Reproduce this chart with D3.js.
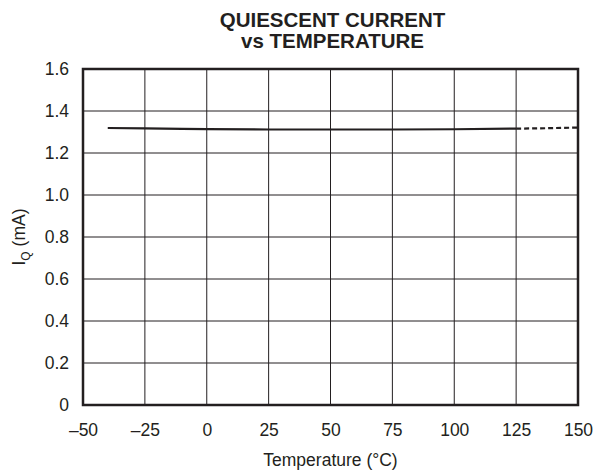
<!DOCTYPE html>
<html>
<head>
<meta charset="utf-8">
<script src="https://cdn.jsdelivr.net/npm/d3@7"></script>
<style>
  body { margin: 0; background: #fff; }
  text { font-family: Arial, "Liberation Sans", sans-serif; fill: #231f20; }
</style>
</head>
<body>
<div id="chart"></div>
<script>
const width = 595, height = 473;
const margin = {top: 69, right: 17, bottom: 68, left: 83};

// measured curve (solid) and extrapolated part (dashed)
const tempSolid = [-40, -25, -10, 0, 25, 50, 75, 100, 125];
const iqSolid = [1.319, 1.317, 1.315, 1.314, 1.312, 1.312, 1.312, 1.313, 1.316];
const tempDash = [125, 137, 150];
const iqDash = [1.316, 1.318, 1.321];

const xTicks = [-50, -25, 0, 25, 50, 75, 100, 125, 150];
const yTicks = [0, 0.2, 0.4, 0.6, 0.8, 1.0, 1.2, 1.4, 1.6];

const svg = d3.select("#chart")
  .append("svg")
  .attr("width", width)
  .attr("height", height);

const x = d3.scaleLinear().domain([-50, 150]).range([margin.left, width - margin.right]);
const y = d3.scaleLinear().domain([0, 1.6]).range([height - margin.bottom, margin.top]);

// grid
svg.append("g")
  .selectAll("line")
  .data(xTicks)
  .join("line")
  .attr("x1", d => x(d)).attr("x2", d => x(d))
  .attr("y1", y(0)).attr("y2", y(1.6))
  .attr("stroke", "#231f20")
  .attr("stroke-width", 1);

svg.append("g")
  .selectAll("line")
  .data(yTicks)
  .join("line")
  .attr("x1", x(-50)).attr("x2", x(150))
  .attr("y1", d => y(d)).attr("y2", d => y(d))
  .attr("stroke", "#231f20")
  .attr("stroke-width", 1);

// frame
svg.append("rect")
  .attr("x", x(-50)).attr("y", y(1.6))
  .attr("width", x(150) - x(-50))
  .attr("height", y(0) - y(1.6))
  .attr("fill", "none")
  .attr("stroke", "#231f20")
  .attr("stroke-width", 2.5);

// axes (labels only)
const fmtX = d => d < 0 ? "\u2013" + Math.abs(d) : String(d);
const xAxis = d3.axisBottom(x).tickValues(xTicks).tickFormat(fmtX).tickSize(0).tickPadding(19);
const yAxis = d3.axisLeft(y).tickValues(yTicks).tickFormat(d => d === 0 ? "0" : d3.format(".1f")(d)).tickSize(0).tickPadding(14);

svg.append("g")
  .attr("transform", `translate(0,${y(0)})`)
  .call(xAxis)
  .call(g => g.select(".domain").remove())
  .selectAll("text")
  .style("font-size", "17.5px")
  .attr("fill", "#231f20");

svg.append("g")
  .attr("transform", `translate(${x(-50)},0)`)
  .call(yAxis)
  .call(g => g.select(".domain").remove())
  .selectAll("text")
  .style("font-size", "17.5px")
  .attr("fill", "#231f20");

// data lines
const line = d3.line().x(d => x(d[0])).y(d => y(d[1]));

svg.append("path")
  .datum(tempSolid.map((t, i) => [t, iqSolid[i]]))
  .attr("fill", "none")
  .attr("stroke", "#231f20")
  .attr("stroke-width", 2.2)
  .attr("d", line);

svg.append("path")
  .datum(tempDash.map((t, i) => [t, iqDash[i]]))
  .attr("fill", "none")
  .attr("stroke", "#231f20")
  .attr("stroke-width", 2.2)
  .attr("stroke-dasharray", "5,3")
  .attr("d", line);

// titles
const cx = (x(-50) + x(150)) / 2;
svg.append("text")
  .attr("x", cx + 2).attr("y", 27)
  .attr("text-anchor", "middle")
  .style("font-size", "20.5px").style("font-weight", "bold")
  .text("QUIESCENT CURRENT");
svg.append("text")
  .attr("x", cx + 2).attr("y", 48)
  .attr("text-anchor", "middle")
  .style("font-size", "20.5px").style("font-weight", "bold")
  .text("vs TEMPERATURE");

svg.append("text")
  .attr("x", cx).attr("y", 466)
  .attr("text-anchor", "middle")
  .style("font-size", "17.5px")
  .text("Temperature (\u00b0C)");

const yt = svg.append("text")
  .attr("transform", `translate(25,${(y(0) + y(1.6)) / 2}) rotate(-90)`)
  .attr("text-anchor", "middle")
  .style("font-size", "17.5px");
yt.append("tspan").text("I");
yt.append("tspan").attr("dy", 5).style("font-size", "12px").text("Q");
yt.append("tspan").attr("dy", -5).text(" (mA)");
</script>
</body>
</html>
